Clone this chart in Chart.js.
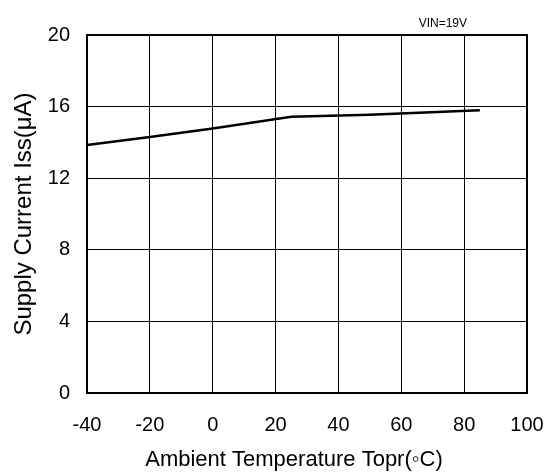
<!DOCTYPE html>
<html>
<head>
<meta charset="utf-8">
<script src="https://cdn.jsdelivr.net/npm/chart.js@4/dist/chart.umd.min.js"></script>
<style>
  html, body { margin: 0; padding: 0; background: #fff; }
  #wrap { width: 550px; height: 473px; }
</style>
</head>
<body>
<div id="wrap"><canvas id="c" width="550" height="473"></canvas></div>
<script>
// data
const temps = [-40, -20, 0, 25, 50, 85];
const current = [13.85, 14.3, 14.78, 15.43, 15.55, 15.8];
const xTicks = [-40, -20, 0, 20, 40, 60, 80, 100];
const yTicks = [0, 4, 8, 12, 16, 20];
const noteText = 'VIN=19V';
const xTitle = 'Ambient Temperature Topr(\u25E6C)';
const yTitle = 'Supply Current Iss(\u03BCA)';

const font = 'Liberation Sans, Arial, sans-serif';

// frame round the plot, the VIN note and the x title (sits a bit left of centre in the original)
const framePlugin = {
  id: 'frame',
  afterDraw(chart) {
    const a = chart.chartArea;
    const ctx = chart.ctx;
    ctx.save();
    ctx.strokeStyle = '#000';
    ctx.lineWidth = 2;
    ctx.strokeRect(a.left, a.top, a.right - a.left, a.bottom - a.top);
    ctx.fillStyle = '#000';
    ctx.font = '12px ' + font;
    ctx.textAlign = 'right';
    ctx.textBaseline = 'alphabetic';
    ctx.fillText(noteText, 467, 27);
    ctx.font = '22px ' + font;
    ctx.textAlign = 'center';
    ctx.fillText(xTitle, 294, 466);
    ctx.restore();
  }
};

new Chart(document.getElementById('c'), {
  type: 'line',
  data: {
    datasets: [{
      data: temps.map((t, i) => ({ x: t, y: current[i] })),
      borderColor: '#000',
      borderWidth: 2.5,
      pointRadius: 0,
      tension: 0,
      fill: false
    }]
  },
  options: {
    responsive: false,
    animation: false,
    layout: { padding: { left: 0, right: 23, top: 35, bottom: 4 } },
    plugins: { legend: { display: false }, tooltip: { enabled: false } },
    scales: {
      x: {
        type: 'linear',
        min: -40,
        max: 100,
        afterBuildTicks: s => { s.ticks = xTicks.map(v => ({ value: v })); },
        afterFit: s => { s.height = 76; s.paddingLeft = 0; s.paddingRight = 0; },
        grid: { color: '#000', lineWidth: 1, drawTicks: false },
        border: { color: '#000', width: 2 },
        ticks: { color: '#000', font: { family: font, size: 20 }, padding: 20, maxRotation: 0 }
      },
      y: {
        min: 0,
        max: 20,
        afterBuildTicks: s => { s.ticks = yTicks.map(v => ({ value: v })); },
        afterFit: s => { s.width = 87; },
        grid: { color: '#000', lineWidth: 1, drawTicks: false },
        border: { color: '#000', width: 2 },
        ticks: { color: '#000', font: { family: font, size: 20 }, padding: 17 },
        title: {
          display: true,
          text: yTitle,
          color: '#000',
          font: { family: font, size: 24 },
          padding: { top: 10, bottom: 4 }
        }
      }
    }
  },
  plugins: [framePlugin]
});
</script>
</body>
</html>
